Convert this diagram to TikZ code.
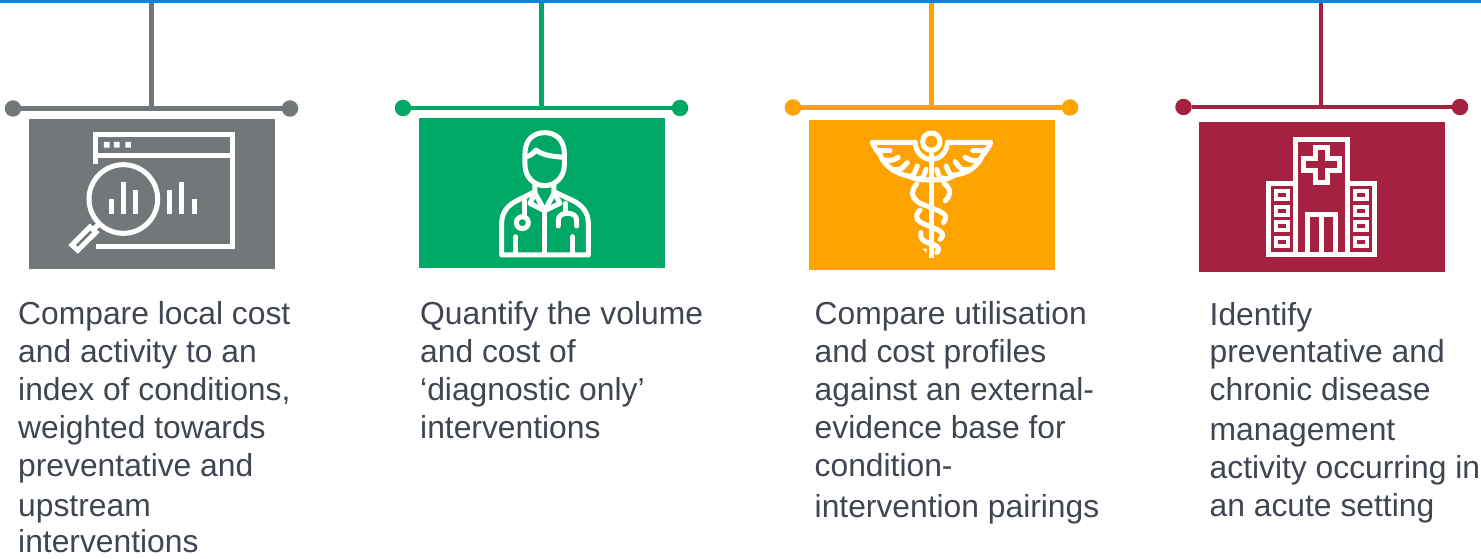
\documentclass[tikz,border=0pt]{standalone}
\usepackage{fontspec}
\setmainfont{Liberation Sans}
\definecolor{cgray}{HTML}{72787A}
\definecolor{cgreen}{HTML}{00A866}
\definecolor{corange}{HTML}{FFA300}
\definecolor{cred}{HTML}{A6203F}
\definecolor{cblue}{HTML}{0A84E0}
\definecolor{ctext}{HTML}{3F4650}
\tikzset{
  panel/.style={fill=#1,draw=none,minimum width=246.3pt,minimum height=150pt,inner sep=0,anchor=north west},
  pin/.style={circle,fill=#1,draw=none,minimum size=16.5pt,inner sep=0},
  link/.style={draw=#1,line width=4.8pt},
  blurb/.style={anchor=north west,inner sep=0,align=left,text=ctext,font=\fontsize{31.8}{38}\selectfont},
  ico/.style={draw=white,line width=5pt,line join=miter},
  icor/.style={draw=white,line width=5pt,line join=round,line cap=round},
  zoomed/.style={x=0.33333pt,y=-0.33333pt}
}
\begin{document}
\begin{tikzpicture}[x=1pt,y=-1pt]
\useasboundingbox (0,0) rectangle (1481,559);
\fill[cblue] (0,0) rectangle (1481,3);

% column 1
\node[panel=cgray] (box1) at (28.3,118.5) {};
\node[pin=cgray] (l1) at (13,108.5) {};
\node[pin=cgray] (r1) at (290,108.5) {};
\coordinate (t1) at (151.5,3);
\coordinate (h1) at (151.5,108.5);
\draw[link=cgray] (l1) -- (r1);
\draw[link=cgray] (t1) -- (h1);
\node[blurb] (txt1) at (18,301.5) {Compare local cost\\and activity to an\\index of conditions,\\weighted towards\\preventative and\\[1.5pt]upstream\\[-1.5pt]interventions};

% column 2
\node[panel=cgreen] (box2) at (418.3,118) {};
\node[pin=cgreen] (l2) at (403,108) {};
\node[pin=cgreen] (r2) at (680,108) {};
\coordinate (t2) at (541.5,3);
\coordinate (h2) at (541.5,108);
\draw[link=cgreen] (l2) -- (r2);
\draw[link=cgreen] (t2) -- (h2);
\node[blurb] (txt2) at (420,301.5) {Quantify the volume\\and cost of\\‘diagnostic only’\\interventions};

% column 3
\node[panel=corange] (box3) at (808.3,119.5) {};
\node[pin=corange] (l3) at (793,107.5) {};
\node[pin=corange] (r3) at (1070,107.5) {};
\coordinate (t3) at (931.5,3);
\coordinate (h3) at (931.5,107.5);
\draw[link=corange] (l3) -- (r3);
\draw[link=corange] (t3) -- (h3);
\node[blurb] (txt3) at (814.5,301.5) {Compare utilisation\\and cost profiles\\against an external-\\evidence base for\\condition-\\[2.5pt]intervention pairings};

% column 4
\node[panel=cred] (box4) at (1198.3,122) {};
\node[pin=cred] (l4) at (1183.5,107) {};
\node[pin=cred] (r4) at (1460,107) {};
\coordinate (t4) at (1321,3);
\coordinate (h4) at (1321,107);
\draw[link=cred] (l4) -- (r4);
\draw[link=cred] (t4) -- (h4);
\node[blurb] (txt4) at (1209.5,302.5) {Identify\\[-0.8pt]preventative and\\[-0.8pt]chronic disease\\[2.5pt]management\\activity occurring in\\an acute setting};

% icon 1: window and magnifier
\begin{scope}[zoomed]
\draw[ico] (288,493) -- (288,404) -- (699,404) -- (699,740) -- (288,740);
\draw[ico] (288,466) -- (699,466);
\fill[white] (312,426) rectangle (329,443) (342,426) rectangle (359,443) (376,426) rectangle (393,443);
\draw[ico] (370,597) circle[radius=103];
\foreach \bx/\by in {334/597,370/546,407/570,508/570,544/546,583/597}
  \fill[white] (\bx-8,\by) rectangle (\bx+8,641);
\draw[ico] (270,681) -- (288,697) -- (233,751) -- (216,735) -- cycle;
\draw[ico] (280,688) -- (300,670);
\end{scope}

% icon 2: doctor
\begin{scope}[zoomed,shift={(1170,270)}]
\draw[icor] (405,190) .. controls (405,150) and (430,128) .. (464,128) .. controls (498,128) and (523,150) .. (523,190) -- (523,225) .. controls (523,262) and (495,287) .. (464,287) .. controls (433,287) and (405,262) .. (405,225) -- cycle;
\draw[icor] (405,200) .. controls (420,200) and (430,190) .. (438,180) .. controls (455,195) and (490,200) .. (523,202);
\draw[icor] (435,285) -- (435,305) -- (375,335) .. controls (350,350) and (335,370) .. (335,400) -- (335,495) -- (595,495) -- (595,400) .. controls (595,370) and (580,350) .. (555,335) -- (492,305) -- (492,285);
\draw[icor] (435,308) -- (420,340) -- (464,362) -- (510,340) -- (492,308);
\draw[icor] (435,310) -- (464,362) -- (492,310);
\draw[icor] (464,362) -- (464,490);
\draw[icor] (403,328) -- (403,382);
\draw[icor] (397,398) circle[radius=18];
\draw[icor] (378,440) -- (378,490);
\draw[icor] (548,440) -- (548,490);
\draw[icor] (527,340) -- (527,368);
\draw[icor] (505,408) -- (505,392) .. controls (505,378) and (515,370) .. (532,370) .. controls (550,370) and (560,378) .. (560,392) -- (560,408);
\end{scope}

% icon 3: caduceus
\begin{scope}[zoomed,shift={(2340,270)}]
\draw[icor] (454,155) circle[radius=26];
\draw[ico] (454,183) -- (454,503);
\draw[icor] (405,157) -- (277,157) .. controls (285,180) and (305,195) .. (305,205) .. controls (320,230) and (345,250) .. (385,258) .. controls (410,270) and (430,272) .. (454,268) .. controls (480,272) and (500,270) .. (525,255) .. controls (565,250) and (590,230) .. (603,205) .. controls (605,195) and (625,180) .. (632,157) -- (503,157);
\draw[icor] (405,157) .. controls (408,190) and (430,208) .. (454,208) .. controls (478,208) and (500,190) .. (503,157);
\foreach \ax/\ay/\bx/\by in {290/182/330/182, 312/210/355/202, 340/238/382/218, 385/258/412/228, 418/264/438/238, 490/264/470/238, 525/255/498/228, 565/238/525/215, 596/210/555/202, 618/182/578/182}
  \draw[icor] (\ax,\ay) .. controls ({(\ax+\bx)/2},{\ay+3}) .. (\bx,\by);
\draw[icor] (410,282) .. controls (390,305) and (395,325) .. (420,340) -- (470,360) .. controls (505,375) and (500,385) .. (490,398);
\draw[icor] (492,280) .. controls (518,300) and (510,320) .. (495,333);
\draw[icor] (420,360) .. controls (400,380) and (410,395) .. (440,405) -- (470,418) .. controls (495,430) and (490,440) .. (480,448);
\draw[icor] (423,428) .. controls (418,445) and (430,455) .. (450,460) .. controls (480,468) and (480,480) .. (470,488);
\fill[white] (428,476) -- (441,476) -- (438,488) -- cycle;
\end{scope}

% icon 4: hospital
\begin{scope}[zoomed,shift={(3510,270)}]
\draw[ico] (377,493) -- (377,148) -- (532,148) -- (532,493);
\draw[ico] (377,280) -- (295,280) -- (295,493) -- (615,493) -- (615,280) -- (532,280);
\draw[ico] (437,172) -- (472,172) -- (472,207) -- (510,207) -- (510,243) -- (472,243) -- (472,279) -- (437,279) -- (437,243) -- (400,243) -- (400,207) -- (437,207) -- cycle;
\draw[ico] (412,493) -- (412,375) -- (497,375) -- (497,493);
\draw[ico] (455,375) -- (455,493);
\foreach \wy in {303,350,397,445} {
  \draw[ico,line width=4pt] (318,\wy) rectangle (354,\wy+24);
  \draw[ico,line width=4pt] (556,\wy) rectangle (592,\wy+24);
}
\end{scope}
\end{tikzpicture}
\end{document}
